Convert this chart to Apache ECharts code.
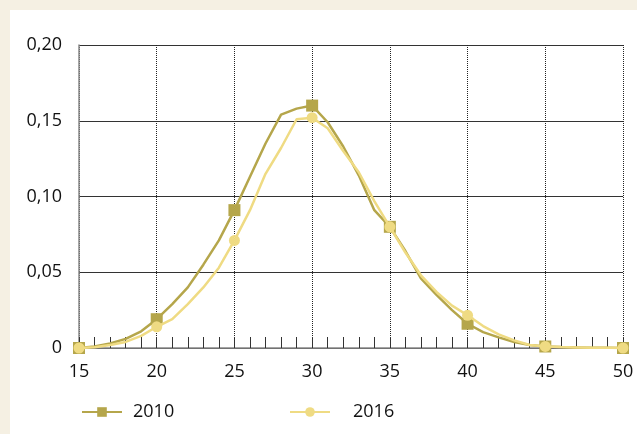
<!DOCTYPE html>
<html><head><meta charset="utf-8">
<script src="https://cdn.jsdelivr.net/npm/echarts@6/dist/echarts.min.js"></script>
<style>html,body{margin:0;padding:0;background:#f5f0e3;}#panel{position:absolute;left:10px;top:10px;width:627px;height:424px;background:#fff;}#c{position:absolute;left:0;top:0;width:637px;height:434px;}</style>
</head><body><div id="panel"></div><div id="c"></div>
<script>
const ages = [15,16,17,18,19,20,21,22,23,24,25,26,27,28,29,30,31,32,33,34,35,36,37,38,39,40,41,42,43,44,45,46,47,48,49,50];
const s2010 = [0,0.001,0.003,0.006,0.011,0.019,0.029,0.040,0.055,0.071,0.091,0.113,0.135,0.154,0.158,0.160,0.149,0.133,0.114,0.091,0.080,0.064,0.046,0.035,0.025,0.016,0.0105,0.007,0.004,0.002,0.001,0.0006,0.0004,0.0002,0.0001,0];
const s2016 = [0,0.0005,0.002,0.004,0.008,0.014,0.019,0.029,0.040,0.053,0.071,0.091,0.115,0.132,0.151,0.152,0.145,0.130,0.116,0.097,0.080,0.063,0.048,0.037,0.028,0.0216,0.0145,0.009,0.005,0.002,0.001,0.0006,0.0004,0.0002,0.0001,0];
const yTicks = {0:'0',0.05:'0,05',0.1:'0,10',0.15:'0,15',0.2:'0,20'};
const chart = echarts.init(document.getElementById('c'), null, {renderer:'canvas'});
const font = '"Open Sans", "Noto Sans", sans-serif';
function pts(arr){return ages.map((a,i)=>[a,arr[i]]);}
function symSize(sz){return function(v){return (v[0]%5===0)?sz:0;};}
const legendText = {fontSize:18,fontFamily:font,color:'#111'};
chart.setOption({
  backgroundColor:'transparent',
  animation:false,
  grid:{left:79,right:14,top:45,bottom:86,containLabel:false},
  xAxis:{type:'value',min:15,max:50,interval:5,
    axisLine:{show:true,onZero:false,lineStyle:{color:'#888',width:1.5}},
    axisTick:{show:true,inside:true,length:11,lineStyle:{color:'#333'}},
    minorTick:{show:true,splitNumber:5,length:11,lineStyle:{color:'#333'}},
    axisLabel:{color:'#111',fontSize:18,fontFamily:font,margin:15},
    splitLine:{show:true,lineStyle:{color:'#222',type:[1,1],width:1}}},
  yAxis:{type:'value',min:0,max:0.2,interval:0.05,
    axisLine:{show:true,lineStyle:{color:'#888',width:1.5}},
    axisTick:{show:false},
    axisLabel:{color:'#111',fontSize:18,fontFamily:font,margin:17,formatter:v=>yTicks[Math.round(v*100)/100]??String(v)},
    splitLine:{show:true,lineStyle:{color:'#333',width:1}}},
  legend:[
    {top:398,left:76,itemWidth:40,itemHeight:12,textStyle:Object.assign({padding:[0,0,0,6]},legendText),data:['2010']},
    {top:398,left:284,itemWidth:40,itemHeight:12,textStyle:Object.assign({padding:[0,0,0,18]},legendText),data:['2016']}
  ],
  series:[
    {name:'2010',type:'line',data:pts(s2010),color:'#b5a64b',symbol:'rect',symbolSize:symSize(12),showAllSymbol:true,
      lineStyle:{width:2.5,color:'#b5a64b'},itemStyle:{color:'#b5a64b'},z:2},
    {name:'2016',type:'line',data:pts(s2016),color:'#efdb83',symbol:'circle',symbolSize:symSize(11),showAllSymbol:true,
      lineStyle:{width:2.5,color:'#efdb83'},itemStyle:{color:'#efdb83'},z:3}
  ]
});
</script></body></html>
